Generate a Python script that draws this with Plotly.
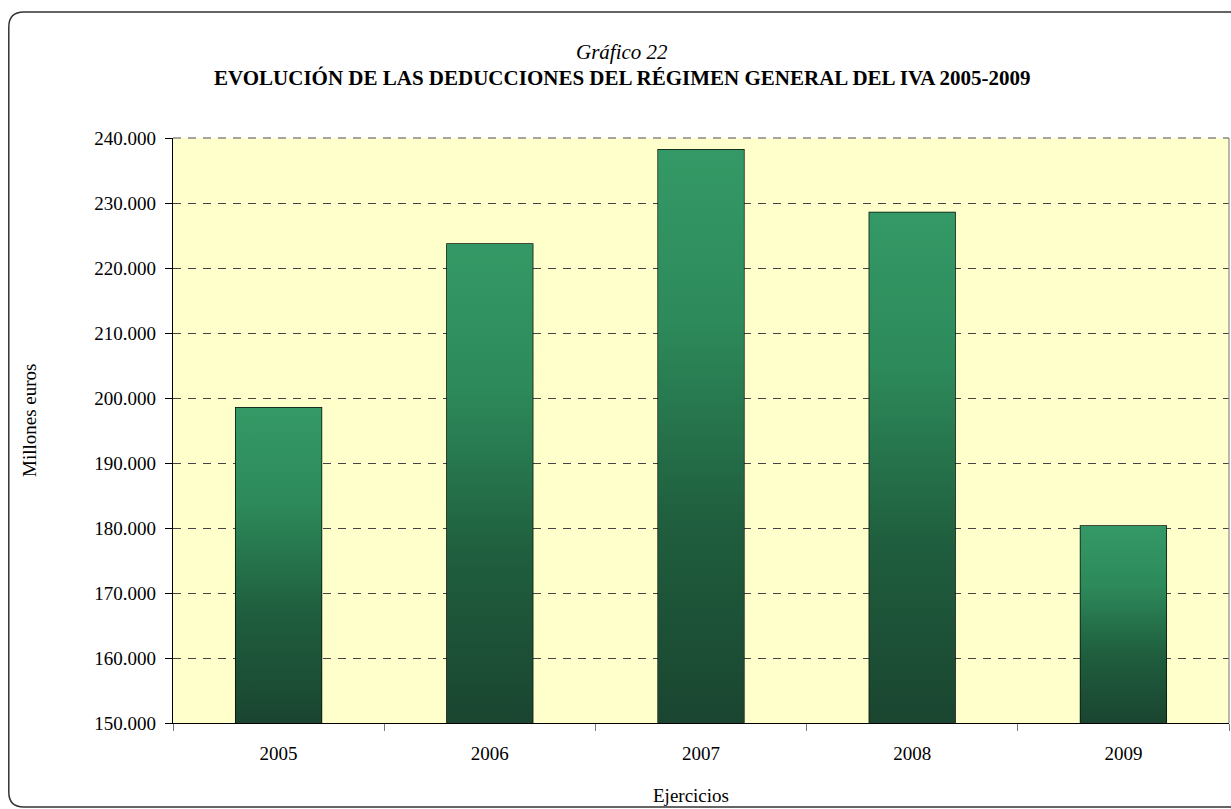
import plotly.graph_objects as go

# ---- data ----
years = ["2005", "2006", "2007", "2008", "2009"]
deducciones = [198500, 223700, 238200, 228550, 180300]
y_ticks = [150000, 160000, 170000, 180000, 190000, 200000, 210000, 220000, 230000, 240000]

title_top = "Gráfico 22"
title_main = "EVOLUCIÓN DE LAS DEDUCCIONES DEL RÉGIMEN GENERAL DEL IVA 2005-2009"
y_title = "Millones euros"
x_title = "Ejercicios"

# ---- layout geometry (pixels, window coordinates; body margin removed) ----
W, H = 1231, 809
L = 173
T = 138
R = W - 1229
B = H - 723
PW, PH = W - L - R, H - T - B
y_min, y_max = 150000, 240000
bar_w = 0.406
FONT = "Liberation Serif, Times New Roman, serif"

def px_x(px):
    return (px - L) / PW

def px_y(py):
    return (H - B - py) / PH

xs = list(range(len(years)))

fig = go.Figure()

# gradient fills for each bar (each gradient spans its own bar)
for i, v in zip(xs, deducciones):
    fig.add_trace(go.Scatter(
        x=[i - bar_w / 2, i + bar_w / 2, i + bar_w / 2, i - bar_w / 2, i - bar_w / 2],
        y=[y_min, y_min, v, v, y_min],
        mode="lines", fill="toself",
        line=dict(color="rgba(0,0,0,0)", width=0),
        fillgradient=dict(type="vertical",
                          colorscale=[[0, "#1a4530"], [0.35, "#1f5e3e"],
                                      [0.7, "#2d8a5a"], [1, "#349966"]]),
        hoverinfo="skip", showlegend=False,
    ))

# bar outlines
fig.add_trace(go.Bar(
    x=xs, y=deducciones, width=bar_w,
    marker=dict(color="rgba(0,0,0,0)", line=dict(color="#050f08", width=1.5)),
    showlegend=False, hovertemplate="%{y:,d}<extra></extra>",
))

# outer rounded frame
r = 15
x0, x1 = px_x(8.8), px_x(1250)
y0, y1 = px_y(807), px_y(12)
rx, ry = r / PW, r / PH
path = (f"M {x0+rx},{y1} L {x1-rx},{y1} Q {x1},{y1} {x1},{y1-ry} "
        f"L {x1},{y0+ry} Q {x1},{y0} {x1-rx},{y0} L {x0+rx},{y0} "
        f"Q {x0},{y0} {x0},{y0+ry} L {x0},{y1-ry} Q {x0},{y1} {x0+rx},{y1} Z")

fig.update_layout(
    width=W, height=H,
    margin=dict(l=L, r=R, t=T, b=B),
    paper_bgcolor="white",
    plot_bgcolor="#FFFFCC",
    separators=",.",
    font=dict(family=FONT, size=19, color="black"),
    showlegend=False,
    shapes=[
        dict(type="path", xref="paper", yref="paper", path=path,
             line=dict(color="#333333", width=1.5), layer="below"),
        dict(type="line", xref="paper", yref="paper", x0=1, x1=1, y0=0, y1=1,
             line=dict(color="#888888", width=1.2)),
        dict(type="line", xref="paper", yref="paper", x0=0, x1=1, y0=1, y1=1,
             line=dict(color="#888888", width=1.5, dash="8px,7px")),
    ],
    annotations=[
        dict(text=f"<i>{title_top}</i>", xref="paper", yref="paper",
             x=px_x(622), y=px_y(52), showarrow=False, xanchor="center", yanchor="middle",
             font=dict(family=FONT, size=21)),
        dict(text=f"<b>{title_main}</b>", xref="paper", yref="paper",
             x=px_x(622), y=px_y(78), showarrow=False, xanchor="center", yanchor="middle",
             font=dict(family=FONT, size=21)),
        dict(text=y_title, xref="paper", yref="paper", textangle=-90,
             x=px_x(30), y=px_y(421), showarrow=False, xanchor="center", yanchor="middle",
             font=dict(family=FONT, size=19)),
        dict(text=x_title, xref="paper", yref="paper",
             x=px_x(691), y=px_y(795), showarrow=False, xanchor="center", yanchor="middle",
             font=dict(family=FONT, size=19)),
    ],
)

fig.update_xaxes(
    range=[-0.5, len(years) - 0.5],
    tickvals=xs, ticktext=years,
    ticks="", showgrid=False, zeroline=False,
    showline=True, linecolor="black", linewidth=1.2,
    ticklabelstandoff=13,
    minor=dict(tickvals=[i - 0.5 for i in range(len(years) + 1)], ticks="outside",
               ticklen=7, tickcolor="#777777", tickwidth=1.2, showgrid=False),
    fixedrange=True,
)
fig.update_yaxes(
    range=[y_min, y_max],
    tickvals=y_ticks, tickformat=",d",
    ticks="outside", ticklen=7, tickcolor="black", tickwidth=1.2,
    showline=True, linecolor="black", linewidth=1.2,
    showgrid=True, gridcolor="#444444", gridwidth=1, griddash="8px,7px",
    zeroline=False, ticklabelstandoff=5,
    fixedrange=True,
)

fig.write_html(
    "out.html",
    config={"displayModeBar": False},
    post_script="document.body.style.margin='0';"
                "document.documentElement.style.overflow='hidden';"
                "document.body.style.overflow='hidden';",
)
